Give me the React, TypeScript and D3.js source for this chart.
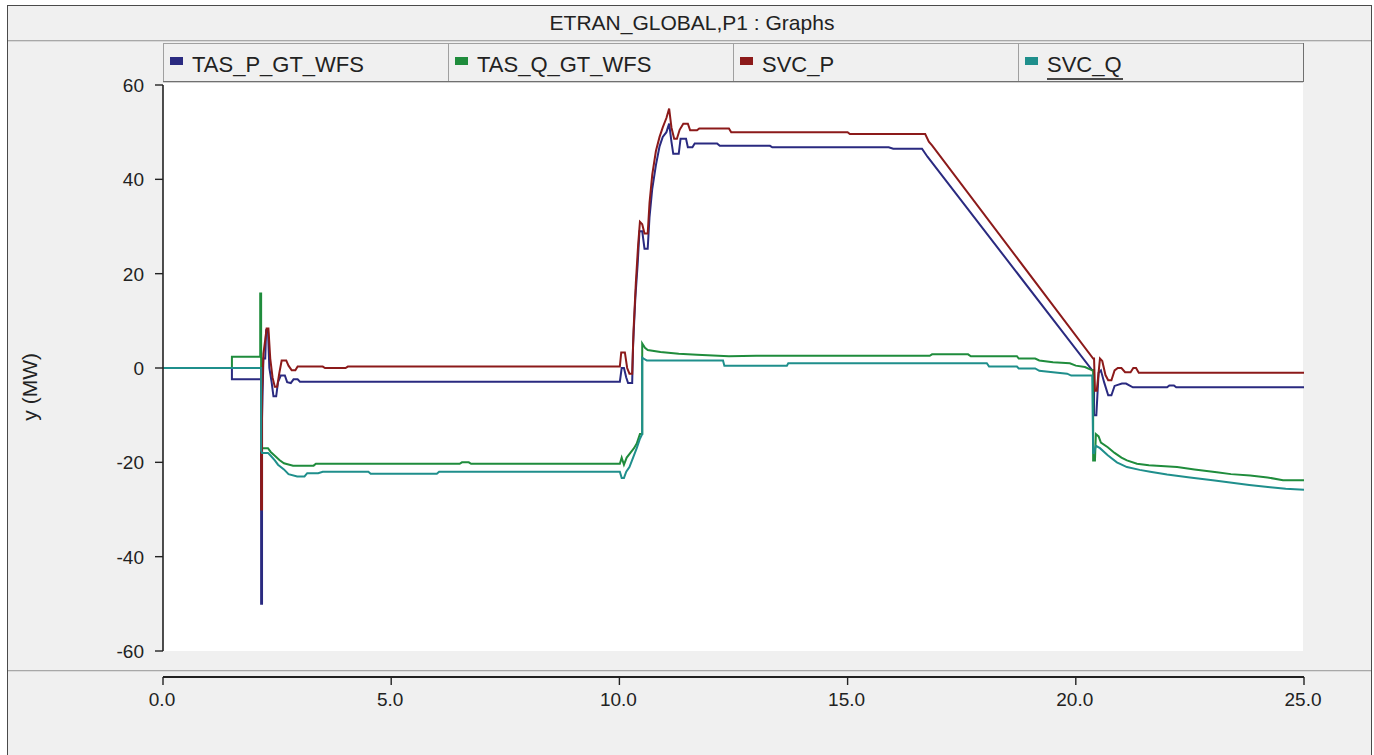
import React from "react";
import * as d3 from "d3";

const TITLE = "ETRAN_GLOBAL,P1 : Graphs";
const Y_LABEL = "y (MW)";
const SERIES_NAMES = ["TAS_P_GT_WFS", "TAS_Q_GT_WFS", "SVC_P", "SVC_Q"];
const SERIES_COLORS = ["#2a2a80", "#1f8c3c", "#8c1a1a", "#1f8f8c"];
const X_TICKS = [0, 5, 10, 15, 20, 25];
const Y_TICKS = [60, 40, 20, 0, -20, -40, -60];

// [time s, value MW]
const tasP: [number, number][] = [
  [0, 0], [1.51, 0], [1.51, -2.4], [2.15, -2.4], [2.15, -50], [2.17, -50], [2.17, -10.7],
  [2.2, 2], [2.24, 2], [2.26, 8], [2.3, 8], [2.33, 0], [2.38, -3], [2.42, -6], [2.48, -6],
  [2.52, -3], [2.58, -1.6], [2.67, -1.6], [2.72, -3], [2.8, -3.2], [2.86, -2.4], [2.95, -2.4],
  [3.0, -2.9], [10.01, -2.9], [10.05, 0], [10.1, 0], [10.15, -2], [10.19, -3.2], [10.28, -3.2],
  [10.3, 5], [10.35, 15], [10.4, 22], [10.44, 29], [10.5, 29], [10.55, 25.3], [10.62, 25.3],
  [10.66, 32], [10.72, 38], [10.8, 43], [10.88, 47], [10.95, 49], [11.03, 50], [11.09, 51.8],
  [11.14, 48], [11.18, 45.4], [11.3, 45.4], [11.34, 48.6], [11.46, 48.6], [11.5, 46.8],
  [11.6, 46.8], [11.65, 47.6], [12.14, 47.6], [12.2, 47.1], [13.3, 47.1], [13.35, 46.8],
  [15.9, 46.8], [16.0, 46.5], [16.63, 46.5], [16.75, 44.8], [20.36, -0.5], [20.4, -0.5],
  [20.4, -10], [20.45, -10], [20.5, -1], [20.55, -0.5], [20.62, -3], [20.71, -5.8],
  [20.78, -5.8], [20.85, -3.8], [21.01, -3.3], [21.1, -3.3], [21.25, -4.1], [22.0, -4.1],
  [22.05, -3.7], [22.15, -3.7], [22.2, -4.1], [25, -4.1],
];

const tasQ: [number, number][] = [
  [0, 0], [1.51, 0], [1.51, 2.4], [2.13, 2.4], [2.13, 15.8], [2.15, 15.8], [2.15, -17],
  [2.3, -17], [2.36, -17.8], [2.45, -18.6], [2.55, -19.5], [2.65, -20.2], [2.85, -20.7],
  [3.3, -20.7], [3.35, -20.3], [6.5, -20.3], [6.55, -20], [6.7, -20], [6.75, -20.3],
  [10.01, -20.3], [10.05, -19], [10.1, -20.5], [10.16, -19], [10.24, -18], [10.32, -17],
  [10.38, -16], [10.45, -14], [10.5, -14], [10.5, 5.2], [10.56, 4.3], [10.62, 3.8],
  [10.9, 3.4], [11.3, 3.0], [11.7, 2.8], [12.4, 2.5], [13.0, 2.6], [16.8, 2.6], [16.85, 2.9],
  [17.64, 2.9], [17.7, 2.5], [18.71, 2.5], [18.75, 2.0], [19.11, 2.0], [19.2, 1.6],
  [19.5, 1.2], [19.87, 1.0], [20.0, 0.5], [20.2, 0.2], [20.36, -0.5], [20.38, -0.5],
  [20.38, -19.6], [20.42, -19.6], [20.44, -14], [20.5, -14.5], [20.55, -15.8], [20.7, -16.8],
  [20.85, -18], [21.0, -19], [21.12, -19.6], [21.34, -20.3], [21.6, -20.6], [22.22, -21],
  [22.6, -21.5], [23.09, -22.1], [23.4, -22.5], [23.82, -22.8], [24.2, -23.2], [24.54, -23.8],
  [25, -23.8],
];

const svcP: [number, number][] = [
  [0, 0], [2.15, 0], [2.15, -30], [2.17, -30], [2.17, -5], [2.2, 3], [2.24, 6], [2.27, 8.4],
  [2.31, 8.4], [2.35, 2], [2.4, -2], [2.45, -4], [2.5, -4], [2.55, -1], [2.6, 1.6],
  [2.7, 1.6], [2.75, 0.5], [2.82, -0.5], [2.9, -0.5], [2.95, 0.3], [3.5, 0.3], [3.55, 0],
  [4.0, 0], [4.05, 0.3], [10.01, 0.3], [10.04, 3.3], [10.12, 3.3], [10.17, 0], [10.22, -1.2],
  [10.28, -1.2], [10.31, 8], [10.36, 18], [10.41, 26], [10.45, 31], [10.5, 30.5],
  [10.55, 28.5], [10.62, 28.5], [10.66, 35], [10.72, 41], [10.8, 46], [10.88, 49],
  [10.95, 51], [11.03, 53], [11.09, 55], [11.14, 51], [11.2, 48.6], [11.26, 48.6],
  [11.32, 50.5], [11.4, 51.8], [11.5, 51.8], [11.55, 50.4], [11.7, 50.4], [11.75, 50.8],
  [12.4, 50.8], [12.45, 50.0], [15.0, 50.0], [15.05, 49.6], [16.7, 49.6], [16.78, 48.0],
  [16.85, 47.2], [20.38, 2], [20.4, 2], [20.42, -4.8], [20.46, -4.8], [20.53, 2],
  [20.58, 1.5], [20.65, -1.5], [20.71, -2.6], [20.78, -2.6], [20.85, -0.5], [20.92, 0],
  [21.0, 0], [21.08, -0.9], [21.2, -0.9], [21.26, 0], [21.32, 0], [21.38, -1], [25, -1],
];

const svcQ: [number, number][] = [
  [0, 0], [2.15, 0], [2.15, -17.5], [2.17, -18], [2.3, -18], [2.36, -18.6], [2.45, -19.6],
  [2.52, -20.5], [2.65, -21.5], [2.75, -22.5], [2.94, -23], [3.1, -23], [3.16, -22.3],
  [3.4, -22.3], [3.5, -22], [4.5, -22], [4.55, -22.4], [6.0, -22.4], [6.05, -22],
  [10.01, -22], [10.05, -23.3], [10.1, -23.3], [10.15, -22], [10.22, -21], [10.3, -19],
  [10.38, -17], [10.45, -15], [10.5, -14], [10.5, 2.2], [10.56, 1.8], [10.6, 1.6],
  [12.27, 1.6], [12.3, 0.5], [13.67, 0.5], [13.7, 1.0], [18.05, 1.0], [18.1, 0.3],
  [18.71, 0.3], [18.75, -0.1], [19.11, -0.1], [19.2, -0.6], [19.5, -0.9], [19.81, -1.2],
  [19.9, -1.6], [20.36, -1.6], [20.38, -18], [20.4, -18], [20.44, -16.5], [20.53, -17],
  [20.7, -18.5], [20.9, -20], [21.12, -21], [21.4, -21.6], [21.63, -22], [22.0, -22.6],
  [22.5, -23.2], [23.0, -23.8], [23.38, -24.3], [23.8, -24.8], [24.26, -25.3], [24.6, -25.6],
  [25, -25.8],
];

const SERIES = [tasP, tasQ, svcP, svcQ];

const FONT = "Arial, 'Liberation Sans', sans-serif";

export default function App() {
  const W = 1374, H = 755;
  const left = 163, right = 1303, top = 85, bottom = 651;
  const x = d3.scaleLinear().domain([0, 25]).range([left, right + 1]);
  const y = d3.scaleLinear().domain([-60, 60]).range([bottom, top]);
  const line = d3.line<[number, number]>().x((d) => x(d[0])).y((d) => y(d[1])).curve(d3.curveLinear);

  const legendX0 = 163, legendX1 = 1303, legendY0 = 43, legendY1 = 81;
  const cellW = (legendX1 - legendX0) / SERIES_NAMES.length;
  const axisY = 677;

  return (
    <svg width={W} height={H} style={{ position: "absolute", left: 0, top: 0 }} fontFamily={FONT}>
      <rect x={0} y={0} width={W} height={H} fill="#ffffff" />
      <rect x={7.5} y={5.5} width={1364} height={760} fill="#f0f0f0" stroke="#4a4a4a" strokeWidth={1} />
      <text x={692} y={30} textAnchor="middle" fontSize={21} fill="#222">{TITLE}</text>
      <line x1={8} x2={1371} y1={40.5} y2={40.5} stroke="#a8a8a8" />
      <line x1={8} x2={1371} y1={41.5} y2={41.5} stroke="#d8d8d8" />

      {/* legend */}
      {SERIES_NAMES.map((name, i) => {
        const cx = legendX0 + i * cellW;
        return (
          <g key={name}>
            <rect x={cx + 0.5} y={legendY0 + 0.5} width={cellW} height={legendY1 - legendY0} fill="#f0f0f0" stroke="#a0a0a0" />
            <rect x={cx + 7} y={57} width={13} height={8} fill={SERIES_COLORS[i]} />
            <text x={cx + 29} y={72} fontSize={22} fill="#222">{name}</text>
            {i === 3 && (
              <line x1={cx + 29} x2={cx + 29 + 76} y1={79} y2={79} stroke="#111" strokeWidth={1.4} />
            )}
          </g>
        );
      })}
      <line x1={legendX1 + 0.5} x2={legendX1 + 0.5} y1={legendY0} y2={legendY1} stroke="#707070" />
      <line x1={legendX0} x2={legendX1 + 1} y1={legendY1 + 0.5} y2={legendY1 + 0.5} stroke="#707070" />

      {/* plot area */}
      <rect x={left} y={82} width={right - left} height={bottom - 82} fill="#ffffff" />
      <line x1={left} x2={right} y1={82.5} y2={82.5} stroke="#d0d0d0" />

      <defs>
        <clipPath id="plotclip">
          <rect x={left} y={82} width={right - left + 1} height={bottom - 82 + 2} />
        </clipPath>
      </defs>
      <g clipPath="url(#plotclip)">
        {SERIES.map((s, i) => (
          <path key={i} d={line(s) || ""} fill="none" stroke={SERIES_COLORS[i]} strokeWidth={2} strokeLinejoin="miter" />
        ))}
      </g>

      {/* y axis */}
      <line x1={left} x2={left} y1={y(60)} y2={y(-60)} stroke="#222" strokeWidth={1.6} />
      {Y_TICKS.map((t) => (
        <g key={t}>
          <line x1={left - 8} x2={left} y1={y(t)} y2={y(t)} stroke="#222" strokeWidth={1.4} />
          <text x={left - 19} y={y(t) + 7} textAnchor="end" fontSize={19} fill="#222">{t}</text>
        </g>
      ))}
      <text transform={`translate(37, ${y(-4)}) rotate(-90)`} textAnchor="middle" fontSize={21} fill="#222">{Y_LABEL}</text>

      {/* x axis strip */}
      <line x1={8} x2={1371} y1={670.5} y2={670.5} stroke="#a8a8a8" />
      <line x1={8} x2={1371} y1={671.5} y2={671.5} stroke="#dcdcdc" />
      <line x1={x(0)} x2={x(25)} y1={axisY} y2={axisY} stroke="#222" strokeWidth={2} />
      {X_TICKS.map((t) => (
        <g key={t}>
          <line x1={x(t)} x2={x(t)} y1={axisY} y2={axisY + 8} stroke="#222" strokeWidth={1.4} />
          <text x={x(t) - 1} y={706} textAnchor="middle" fontSize={19} fill="#222">{t.toFixed(1)}</text>
        </g>
      ))}
    </svg>
  );
}
